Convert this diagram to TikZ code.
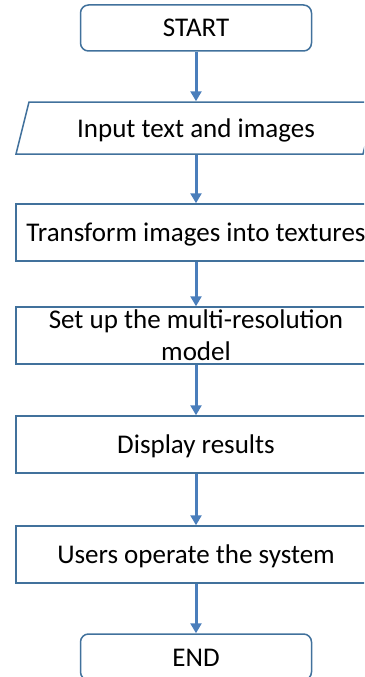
\documentclass[tikz,border=0pt]{standalone}
\usepackage{fontspec}
\setmainfont{Carlito}
\usetikzlibrary{arrows.meta}
\definecolor{edgeblue}{HTML}{41719C}
\definecolor{arrowblue}{HTML}{4A7EBB}
\begin{document}
\begin{tikzpicture}[x=1pt,y=-1pt,
  basebox/.style={draw=edgeblue, line width=1.5pt, fill=white,
    minimum width=360pt, minimum height=57pt, inner sep=0pt,
    font=\fontsize{27}{32.4}\selectfont},
  box/.style={basebox, text height=20pt, text depth=2pt},
  term/.style={box, minimum width=231pt, minimum height=46pt, rounded corners=8pt},
  flow/.style={draw=arrowblue, line width=3pt, -{Triangle[width=11pt,length=10pt]}}]
\useasboundingbox (0,0) rectangle (364,677);
\clip (0,0) rectangle (364,677);
\node[term] (start) at (196,28) {START};
\draw[draw=edgeblue, line width=1.5pt, fill=white] (29,102) -- (376,102) -- (363,154) -- (16,154) -- cycle;
\node[box, draw=none, fill=none, minimum width=347pt, minimum height=52pt] (input) at (196,128) {Input text and images};
\node[box] (transform) at (196,232.5) {Transform images into textures};
\node[basebox, align=center] (setup) at (196,335.5) {Set up the multi-resolution\\model};
\node[box] (display) at (196,444.5) {Display results};
\node[box] (users) at (196,554.5) {Users operate the system};
\node[term] (end) at (196,657) {END};
\draw[flow] (start) -- (input);
\draw[flow] (input) -- (transform);
\draw[flow] (transform) -- (setup);
\draw[flow] (setup) -- (display);
\draw[flow] (display) -- (users);
\draw[flow] (users) -- (end);
\end{tikzpicture}
\end{document}
